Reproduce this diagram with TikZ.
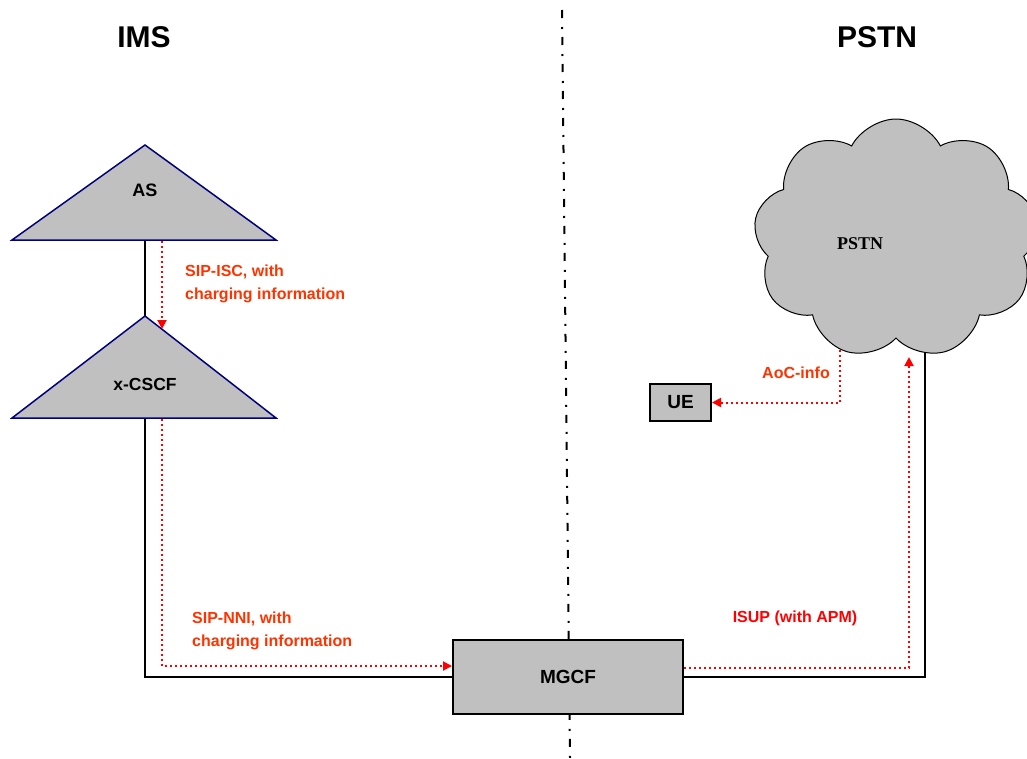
\documentclass[tikz,border=0pt]{standalone}
\usepackage{fontspec}
\setmainfont{Liberation Sans}
\newfontfamily\cloudfont{Liberation Serif}
\usetikzlibrary{arrows.meta,shapes.symbols,backgrounds,positioning}
\definecolor{boxgray}{HTML}{C0C0C0}
\definecolor{trinavy}{HTML}{000080}
\definecolor{sigorange}{HTML}{FF3300}

\begin{document}
\begin{tikzpicture}[x=1pt,y=-1pt,
	entity/.style={draw=black,line width=2pt,fill=boxgray,font=\fontsize{19}{22}\selectfont\bfseries},
	tri/.style={draw=trinavy,line width=1.5pt,fill=boxgray,line join=miter},
	trilabel/.style={font=\fontsize{18}{22}\selectfont\bfseries},
	title/.style={font=\fontsize{30}{36}\selectfont\bfseries},
	sig/.style={text=sigorange,inner sep=0pt,font=\fontsize{16}{23.5}\selectfont\bfseries,align=left},
	link/.style={draw=black,line width=2pt},
	flow/.style={draw=red,line width=2pt,dash pattern=on 2pt off 3pt,-{Triangle[length=9pt,width=9pt]}},
	divider/.style={draw=black,line width=2pt,dash pattern=on 8pt off 9pt on 2pt off 8pt}]
	\useasboundingbox (0,0) rectangle (1027,758);

	% titles
	\node[title] (ims_title) at (144,37) {IMS};
	\node[title] (pstn_title) at (877,37) {PSTN};

	% IMS side
	\coordinate (as_l) at (12,240);
	\coordinate (as_t) at (145,145);
	\coordinate (as_r) at (276,240);
	\draw[tri] (as_l) -- (as_t) -- (as_r) -- cycle;
	\node[trilabel] (as) at (145,190) {AS};

	\coordinate (cscf_l) at (12,418);
	\coordinate (cscf_t) at (145,316);
	\coordinate (cscf_r) at (276,418);
	\draw[tri] (cscf_l) -- (cscf_t) -- (cscf_r) -- cycle;
	\node[trilabel,font=\fontsize{17.5}{22}\selectfont\bfseries] (cscf) at (145,384) {x-CSCF};

	\node[entity,minimum width=230pt,minimum height=74pt] (mgcf) at (568,677) {MGCF};

	% PSTN side
	\node[cloud,draw=black,line width=1pt,fill=boxgray,cloud puffs=9,cloud puff arc=125,aspect=1.15,
		minimum width=285pt,minimum height=240pt,inner sep=0pt] (pstn) at (896,239) {};
	\node[font=\cloudfont\fontsize{18}{22}\selectfont\bfseries] (pstn_lbl) at (860,244) {PSTN};
	\node[entity,minimum width=61pt,minimum height=37pt] (ue) at (680.5,402.5) {UE};

	% end points
	\coordinate (div_top) at (562,10);
	\coordinate (div_bot) at (570,758);
	\coordinate (as_b) at (145,240);
	\coordinate (cscf_b) at (145,418);
	\coordinate (as_isc) at (162,241);
	\coordinate (cscf_isc) at (162,329);
	\coordinate (cscf_nni) at (162,419);
	\coordinate (pstn_in) at (925,320);
	\coordinate (pstn_isup) at (909,357);
	\coordinate (pstn_aoc) at (840,330);

	\begin{scope}[on background layer]
	\draw[divider] (div_top) -- (div_bot);
	\draw[link] (as_b) -- (cscf_t);
	\draw[link] (cscf_b) |- (mgcf.west);
	\draw[link] (mgcf.east) -| (pstn_in);
	\draw[flow] (pstn_aoc) |- (ue.east);
	\end{scope}

	% signalling
	\draw[flow] (as_isc) -- (cscf_isc);
	\draw[flow] (cscf_nni) |- ([yshift=11pt]mgcf.west);
	\draw[flow] ([yshift=9pt]mgcf.east) -| (pstn_isup);

	\node[sig,anchor=west] (isc_lbl) at (185,284) {SIP-ISC, with\\charging information};
	\node[sig,anchor=west] (nni_lbl) at (192,631) {SIP-NNI, with\\charging information};
	\node[sig] (aoc_lbl) at (796,373) {AoC-info};
	\node[sig,text=red] (isup_lbl) at (795,618) {ISUP (with APM)};
\end{tikzpicture}
\end{document}
